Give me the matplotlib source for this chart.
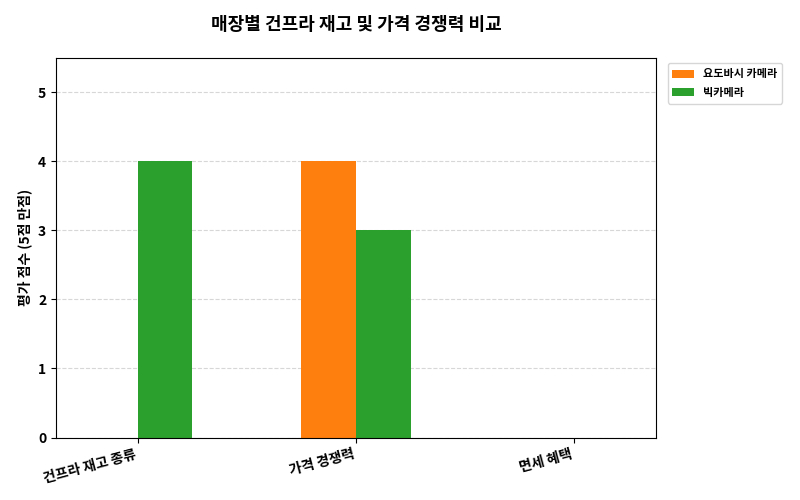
import matplotlib

matplotlib.use("Agg")
import matplotlib.pyplot as plt
import numpy as np

plt.rcParams["font.family"] = ["Noto Sans CJK KR", "DejaVu Sans"]

categories = ["건프라 재고 종류", "가격 경쟁력", "면세 혜택"]
series = ["요도바시 카메라", "빅카메라"]
values = {
    "요도바시 카메라": [0, 4, 0],
    "빅카메라": [4, 3, 0],
}
colors = ["#ff7f0e", "#2ca02c"]

fig, ax = plt.subplots(figsize=(8, 5), dpi=100)
x = np.arange(len(categories))
w = 0.25
for i, (name, c) in enumerate(zip(series, colors)):
    ax.bar(x + (i - 0.5) * w, values[name], w, label=name, color=c)

ax.set_xticks(x, categories, rotation=15, ha="right", fontweight="bold")
ax.set_xlim(-0.375, 2.375)
ax.set_ylim(0, 5.5)
ax.set_yticks(range(6))
for t in ax.get_yticklabels():
    t.set_fontweight("bold")
ax.set_ylabel("평가 점수 (5점 만점)", fontweight="bold")
ax.set_title("매장별 건프라 재고 및 가격 경쟁력 비교", fontweight="bold", fontsize=13, pad=20)
ax.grid(True, axis="y", linestyle="--", alpha=0.5)
ax.set_axisbelow(True)
leg = ax.legend(loc="upper left", bbox_to_anchor=(1.01, 1.0), fontsize=8)
for t in leg.get_texts():
    t.set_fontweight("bold")
fig.subplots_adjust(left=0.07, right=0.82, top=0.885, bottom=0.125)
fig.savefig("out.png", dpi=100)
